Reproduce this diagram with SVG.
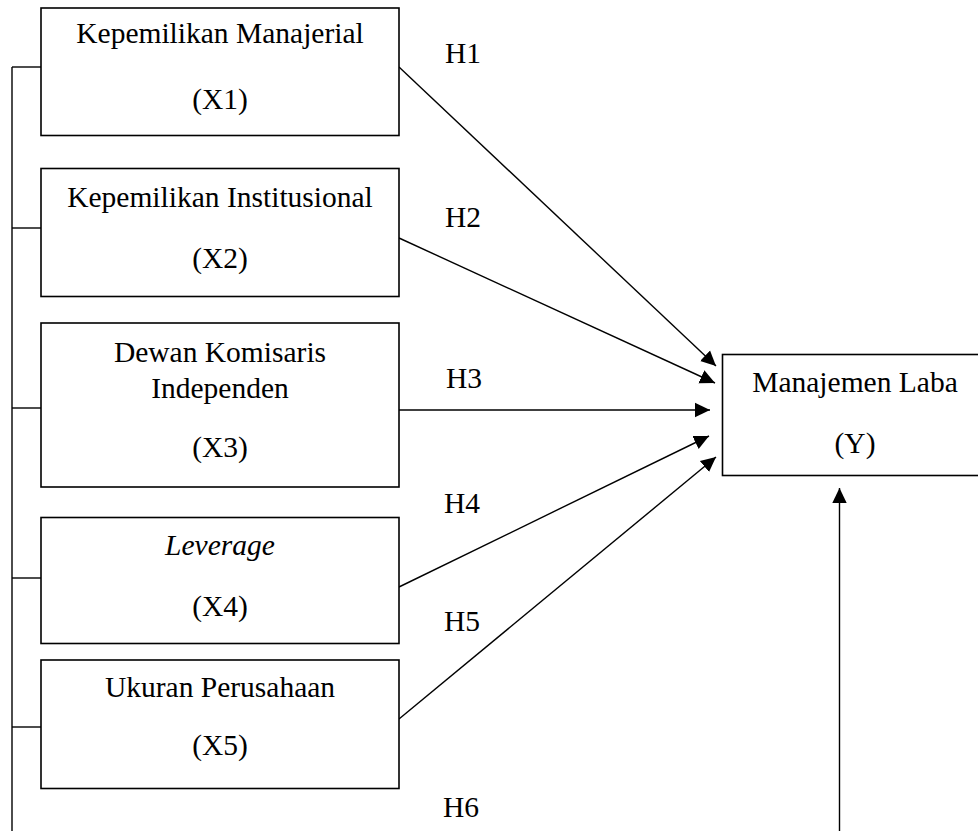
<svg xmlns="http://www.w3.org/2000/svg" width="978" height="831" viewBox="0 0 978 831">
<style>
.box{fill:#fff;stroke:#000;stroke-width:1.6}
.t{font-family:"Liberation Serif","Times New Roman",serif;font-size:29.5px;fill:#000;text-anchor:middle}
.h{font-family:"Liberation Serif","Times New Roman",serif;font-size:29.5px;fill:#000}
.ln{stroke:#000;stroke-width:1.4;fill:none}
</style>
<defs>
<marker id="ah" markerUnits="userSpaceOnUse" markerWidth="16" markerHeight="16" viewBox="0 0 16 16" refX="15" refY="8" orient="auto">
<path d="M0,0.8 L15,8 L0,15.2 Z" fill="#000"/>
</marker>
</defs>
<rect width="978" height="831" fill="#fff"/>
<g id="connectors">
<line class="ln" x1="12" y1="67" x2="12" y2="831"/>
<line class="ln" x1="12" y1="67" x2="41" y2="67"/>
<line class="ln" x1="12" y1="228" x2="41" y2="228"/>
<line class="ln" x1="12" y1="408" x2="41" y2="408"/>
<line class="ln" x1="12" y1="578" x2="41" y2="578"/>
<line class="ln" x1="12" y1="727" x2="41" y2="727"/>
<line class="ln" x1="399" y1="67" x2="716" y2="366" marker-end="url(#ah)"/>
<line class="ln" x1="399" y1="238" x2="715" y2="383" marker-end="url(#ah)"/>
<line class="ln" x1="399" y1="410" x2="710" y2="410" marker-end="url(#ah)"/>
<line class="ln" x1="399" y1="587" x2="709" y2="436" marker-end="url(#ah)"/>
<line class="ln" x1="399" y1="719" x2="716" y2="457" marker-end="url(#ah)"/>
<line class="ln" x1="839.5" y1="831" x2="839.5" y2="488" marker-end="url(#ah)"/>
<text class="h" x="445" y="63">H1</text>
<text class="h" x="445" y="227">H2</text>
<text class="h" x="446" y="388">H3</text>
<text class="h" x="444" y="513">H4</text>
<text class="h" x="444" y="631">H5</text>
<text class="h" x="443" y="817">H6</text>
</g>
<g id="x1">
<rect class="box" x="41" y="8" width="358" height="127.5"/>
<text class="t" x="220" y="43">Kepemilikan Manajerial</text>
<text class="t" x="220" y="109">(X1)</text>
</g>
<g id="x2">
<rect class="box" x="41" y="168.5" width="358" height="128"/>
<text class="t" x="220" y="206.5">Kepemilikan Institusional</text>
<text class="t" x="220" y="267.5">(X2)</text>
</g>
<g id="x3">
<rect class="box" x="41" y="323" width="358" height="164"/>
<text class="t" x="220" y="362">Dewan Komisaris</text>
<text class="t" x="220" y="398">Independen</text>
<text class="t" x="220" y="457">(X3)</text>
</g>
<g id="x4">
<rect class="box" x="41" y="517.5" width="358" height="126"/>
<text class="t" x="220" y="555" font-style="italic">Leverage</text>
<text class="t" x="220" y="616">(X4)</text>
</g>
<g id="x5">
<rect class="box" x="41" y="660" width="358" height="128.5"/>
<text class="t" x="220" y="697">Ukuran Perusahaan</text>
<text class="t" x="220" y="755">(X5)</text>
</g>
<g id="y">
<rect class="box" x="722.5" y="354.5" width="280" height="121"/>
<text class="t" x="855" y="391.5">Manajemen Laba</text>
<text class="t" x="855" y="452.5">(Y)</text>
</g>
</svg>
